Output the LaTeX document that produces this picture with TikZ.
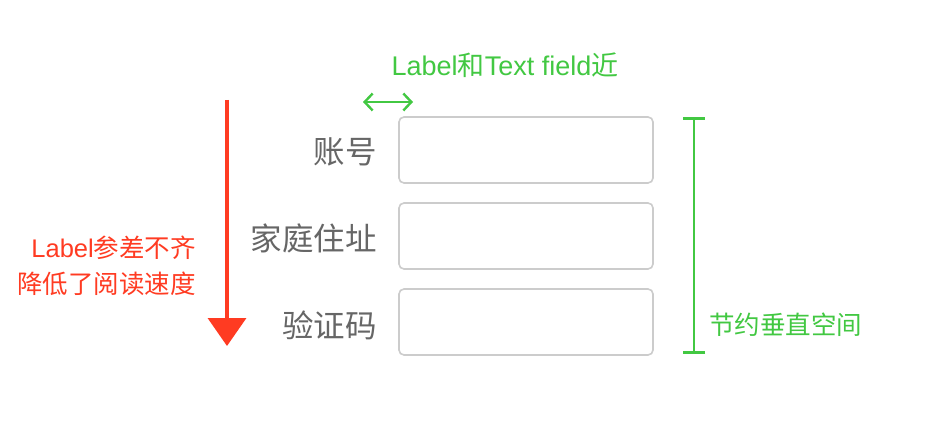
\documentclass[tikz,border=0pt]{standalone}
\usepackage{fontspec}
\setmainfont{Noto Sans CJK SC}
\newfontfamily\latinsans{Liberation Sans}
\usetikzlibrary{arrows.meta}
\definecolor{warnred}{HTML}{FF3B22}
\definecolor{okgreen}{HTML}{42C842}
\definecolor{labelgray}{HTML}{666666}
\definecolor{fieldgray}{HTML}{CCCCCC}
\newcommand{\lat}[1]{{\latinsans #1}}
\begin{document}
\begin{tikzpicture}[x=1pt,y=-1pt,
  fieldbox/.style={draw=fieldgray,line width=1.6pt,rounded corners=5pt,fill=white},
  formlabel/.style={anchor=east,text=labelgray,font=\fontsize{31.5}{36}\selectfont,inner sep=0pt},
  note/.style={font=\fontsize{25.5}{36}\selectfont,inner sep=0pt}]
\useasboundingbox (0,0) rectangle (952,446);
\fill[white] (0,0) rectangle (952,446);

% input fields
\draw[fieldbox] (399,117) rectangle (653,183);
\draw[fieldbox] (399,203) rectangle (653,269);
\draw[fieldbox] (399,289) rectangle (653,355);

% field labels, right-aligned
\node[formlabel] (l1) at (377,152) {账号};
\node[formlabel] (l2) at (377,238) {家庭住址};
\node[formlabel] (l3) at (377,325) {验证码};

% reading-direction arrow
\coordinate (rtop) at (227,100);
\coordinate (rbot) at (227,346);
\draw[warnred,line width=3.6pt,-{Triangle[length=28pt,width=38pt]}] (rtop) -- (rbot);
\node[note,text=warnred,align=right,anchor=east] (rnote) at (196,266)
  {\lat{Label}参差不齐\\降低了阅读速度};

% label-to-field gap
\node[note,text=okgreen,font=\fontsize{27}{36}\selectfont] (gnote) at (505,65) {\lat{Label}和\lat{Text field}近};
\coordinate (ga) at (363,102);
\coordinate (gb) at (413,102);
\draw[okgreen,line width=2.4pt,{Straight Barb[length=8pt,width=17pt]}-{Straight Barb[length=8pt,width=17pt]}] (ga) -- (gb);

% vertical extent bar
\coordinate (vt) at (694,117);
\coordinate (vb) at (694,354);
\draw[okgreen,line width=2.6pt,{Bar[width=22pt]}-{Bar[width=22pt]}] (vt) -- (vb);
\node[note,text=okgreen,anchor=west] (vnote) at (709,325) {节约垂直空间};
\end{tikzpicture}
\end{document}
